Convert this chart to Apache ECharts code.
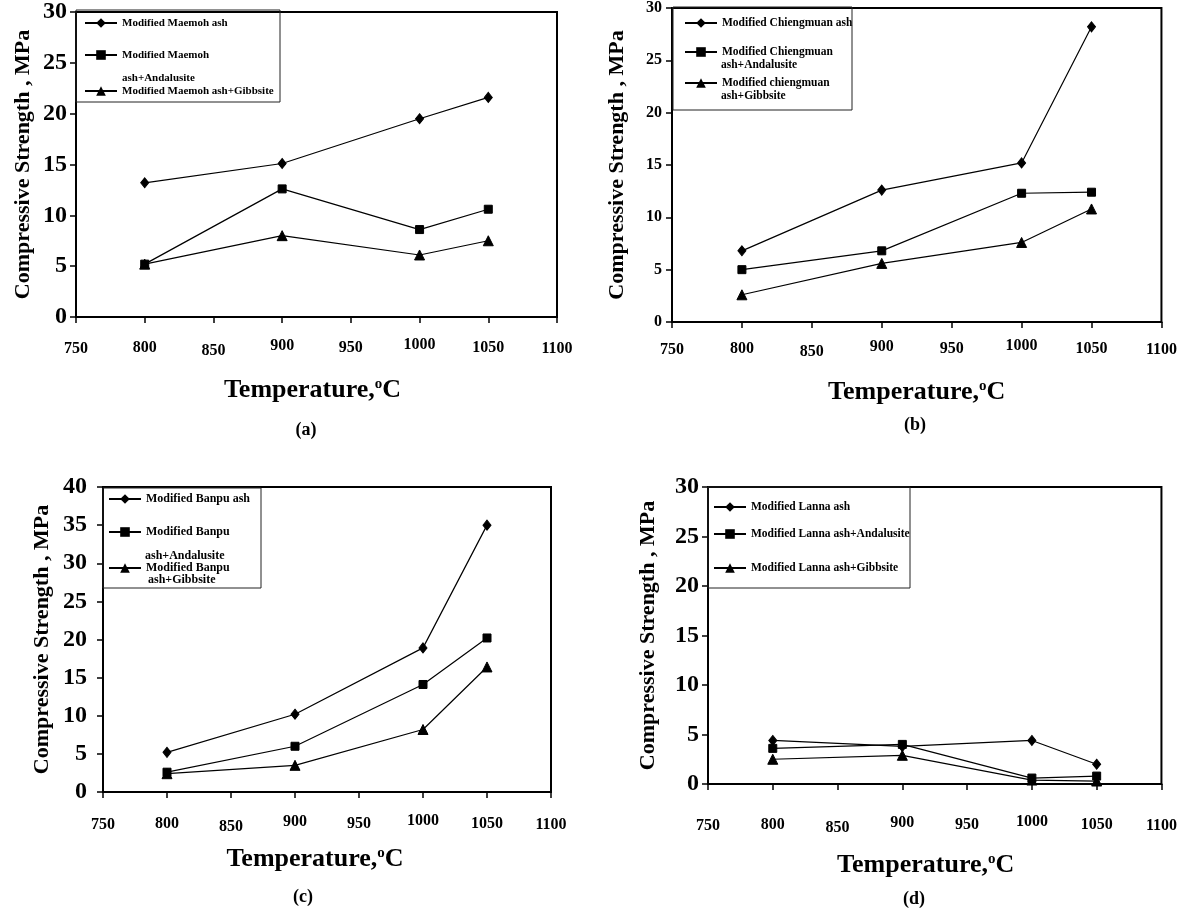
<!DOCTYPE html>
<html><head><meta charset="utf-8">
<script src="https://cdn.jsdelivr.net/npm/echarts@6/dist/echarts.min.js"></script>
<style>html,body{margin:0;padding:0;background:#fff}#c{width:1180px;height:911px}</style>
</head><body><div id="c"></div>
<script>
// ---- data (compressive strength, MPa) ----
const temperatures = [800, 900, 1000, 1050];

const maemohAsh = [13.2, 15.1, 19.5, 21.6];
const maemohAndalusite = [5.2, 12.6, 8.6, 10.6];
const maemohGibbsite = [5.2, 8.0, 6.1, 7.5];

const chiengmuanAsh = [6.8, 12.6, 15.2, 28.2];
const chiengmuanAndalusite = [5.0, 6.8, 12.3, 12.4];
const chiengmuanGibbsite = [2.6, 5.6, 7.6, 10.8];

const banpuAsh = [5.2, 10.2, 18.9, 35.0];
const banpuAndalusite = [2.6, 6.0, 14.1, 20.2];
const banpuGibbsite = [2.4, 3.5, 8.2, 16.4];

const lannaAsh = [4.4, 3.8, 4.4, 2.0];
const lannaAndalusite = [3.6, 4.0, 0.6, 0.8];
const lannaGibbsite = [2.5, 2.9, 0.4, 0.3];

const xMin = 750, xMax = 1100, xStep = 50;
const yMaxes = [30, 30, 40, 30];
const panelLabels = ['(a)', '(b)', '(c)', '(d)'];

const seriesNamesA = ['Modified Maemoh ash', 'Modified Maemoh ash+Andalusite', 'Modified Maemoh ash+Gibbsite'];
const seriesNamesB = ['Modified Chiengmuan ash', 'Modified Chiengmuan ash+Andalusite', 'Modified chiengmuan ash+Gibbsite'];
const seriesNamesC = ['Modified Banpu ash', 'Modified Banpu ash+Andalusite', 'Modified Banpu ash+Gibbsite'];
const seriesNamesD = ['Modified Lanna ash', 'Modified Lanna ash+Andalusite', 'Modified Lanna ash+Gibbsite'];

// ---- layout ----
const FONT = '"Liberation Serif", "Times New Roman", serif';
const grids = [
  {left: 76, top: 10, width: 481, height: 307},
  {left: 672, top: 7, width: 490, height: 315},
  {left: 103, top: 487, width: 448, height: 305},
  {left: 708, top: 487, width: 454, height: 297}
];
const yLabelSize = [24, 16, 24, 24];
const yLabelMargin = [9, 10, 16, 9];
const yNameGap = [42, 44, 50, 49];
const xLabelMargin = [20, 16, 21, 30];
const xNameGap = [60, 57, 54, 68];
const xNameShift = [8, 0, 24, 18];
// slight vertical jitter of the printed tick labels in the scanned figure
const xLabelPad = {750: 4, 800: 3, 850: 6, 900: 1, 950: 3, 1000: 0, 1050: 3, 1100: 4};

const panels = [
  {names: seriesNamesA, vals: [maemohAsh, maemohAndalusite, maemohGibbsite]},
  {names: seriesNamesB, vals: [chiengmuanAsh, chiengmuanAndalusite, chiengmuanGibbsite]},
  {names: seriesNamesC, vals: [banpuAsh, banpuAndalusite, banpuGibbsite]},
  {names: seriesNamesD, vals: [lannaAsh, lannaAndalusite, lannaGibbsite]}
];
const symbols = ['diamond', 'rect', 'triangle'];
const symbolSizes = [[8, 10], 8, 10];

// legend rows: [left of icon, center y, first-line text]
const legendRows = [
  [[84, 23, 'Modified Maemoh ash'], [84, 55, 'Modified Maemoh'], [84, 91, 'Modified Maemoh ash+Gibbsite']],
  [[684, 23, 'Modified Chiengmuan ash'], [684, 52, 'Modified Chiengmuan'], [684, 83, 'Modified chiengmuan']],
  [[108, 499, 'Modified Banpu ash'], [108, 532, 'Modified Banpu'], [108, 568, 'Modified Banpu']],
  [[713, 507, 'Modified Lanna ash'], [713, 534, 'Modified Lanna ash+Andalusite'], [713, 568, 'Modified Lanna ash+Gibbsite']]
];
const legendFont = [11, 11.5, 12, 11.5];
const legendExtra = [
  [122, 78, 'ash+Andalusite', 11],
  [721, 65, 'ash+Andalusite', 11.5], [721, 96, 'ash+Gibbsite', 11.5],
  [145, 556, 'ash+Andalusite', 12], [148, 580, 'ash+Gibbsite', 12]
];
const legendBoxes = [[76, 10, 204, 92], [673, 7, 179, 103], [103, 488, 158, 100], [708, 487, 202, 101]];
const panelLabelPos = [[306, 430], [915, 425], [303, 897], [914, 899]];

const option = {
  backgroundColor: '#fff',
  animation: false,
  grid: grids.map(g => Object.assign({show: true, borderColor: '#000', borderWidth: 2, backgroundColor: 'transparent'}, g)),
  xAxis: grids.map((g, i) => ({
    gridIndex: i, type: 'value', min: xMin, max: xMax, interval: xStep,
    axisLine: {show: true, lineStyle: {color: '#000', width: 2}},
    axisTick: {show: true, inside: false, length: 6, lineStyle: {color: '#000', width: 1.5}},
    splitLine: {show: false},
    axisLabel: {color: '#000', fontFamily: FONT, fontWeight: 'bold', fontSize: 16, margin: xLabelMargin[i],
      formatter: v => '{p' + v + '|' + v + '}',
      rich: Object.fromEntries(Object.keys(xLabelPad).map(k => ['p' + k,
        {fontFamily: FONT, fontWeight: 'bold', fontSize: 16, color: '#000', padding: [xLabelPad[k], 0, 8 - xLabelPad[k], 0]}]))},
    name: 'Temperature,{s|o}C', nameLocation: 'middle', nameGap: xNameGap[i],
    nameTextStyle: {color: '#000', fontFamily: FONT, fontWeight: 'bold', fontSize: 26, padding: [0, xNameShift[i], 0, 0],
      rich: {s: {fontFamily: FONT, fontWeight: 'bold', fontSize: 15, verticalAlign: 'top', color: '#000', padding: [0, 0, 10, 0]}}}
  })),
  yAxis: grids.map((g, i) => ({
    gridIndex: i, type: 'value', min: 0, max: yMaxes[i], interval: 5,
    axisLine: {show: true, lineStyle: {color: '#000', width: 2}},
    axisTick: {show: true, inside: false, length: 6, lineStyle: {color: '#000', width: 1.5}},
    splitLine: {show: false},
    axisLabel: {color: '#000', fontFamily: FONT, fontWeight: 'bold', fontSize: yLabelSize[i], margin: yLabelMargin[i],
      formatter: v => String(v)},
    name: 'Compressive Strength , MPa', nameLocation: 'middle', nameGap: yNameGap[i],
    nameTextStyle: {color: '#000', fontFamily: FONT, fontWeight: 'bold', fontSize: 22}
  })),
  legend: [],
  series: [],
  graphic: []
};

panels.forEach((p, gi) => {
  p.names.forEach((name, si) => {
    option.series.push({
      name: name, type: 'line', xAxisIndex: gi, yAxisIndex: gi,
      data: temperatures.map((t, k) => [t, p.vals[si][k]]),
      symbol: symbols[si], symbolSize: symbolSizes[si], showSymbol: true,
      lineStyle: {color: '#000', width: 1.2},
      itemStyle: {color: '#000', borderColor: '#000'},
      z: 3
    });
    const row = legendRows[gi][si];
    option.legend.push({
      data: [name], left: row[0], top: row[1] - 7, padding: 0,
      itemWidth: 32, itemHeight: 12, selectedMode: false,
      formatter: () => row[2],
      textStyle: {color: '#000', fontFamily: FONT, fontWeight: 'bold', fontSize: legendFont[gi], lineHeight: 14}
    });
  });
});

legendBoxes.forEach(b => option.graphic.push({
  type: 'rect', shape: {x: b[0], y: b[1], width: b[2], height: b[3]},
  style: {fill: 'transparent', stroke: '#222', lineWidth: 1}, z: 10, silent: true
}));
legendExtra.forEach(t => option.graphic.push({
  type: 'text', x: t[0], y: t[1], silent: true,
  style: {text: t[2], fill: '#000', font: 'bold ' + t[3] + 'px ' + FONT, textVerticalAlign: 'middle'}
}));
panelLabels.forEach((lab, i) => option.graphic.push({
  type: 'text', x: panelLabelPos[i][0], y: panelLabelPos[i][1], silent: true,
  style: {text: lab, fill: '#000', font: 'bold 18px ' + FONT, textAlign: 'center', textVerticalAlign: 'middle'}
}));

const chart = echarts.init(document.getElementById('c'), null, {renderer: 'canvas'});
chart.setOption(option);
</script></body></html>
